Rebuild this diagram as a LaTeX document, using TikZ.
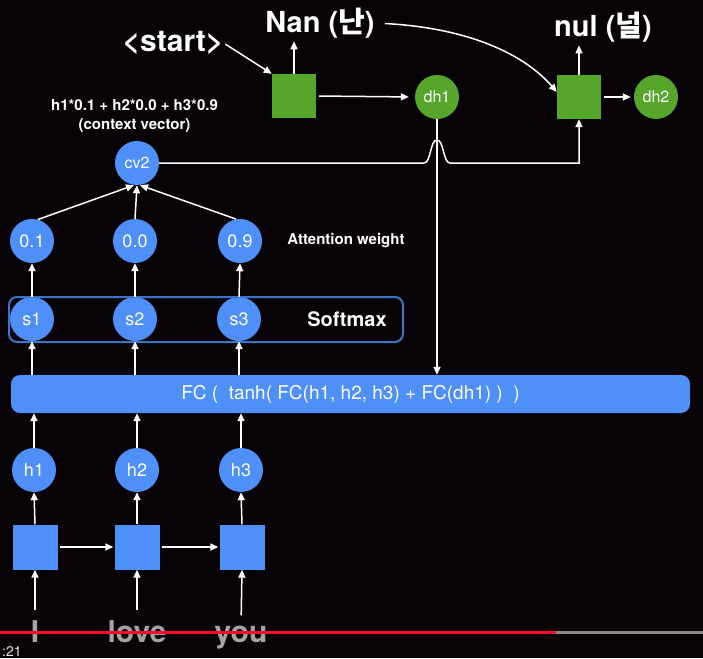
\documentclass[tikz,border=0pt]{standalone}
\usepackage{fontspec}
\setmainfont{TeX Gyre Heros}
\newfontfamily\krfont{Noto Sans CJK KR}
\usetikzlibrary{arrows.meta}

\definecolor{bg}{HTML}{060206}
\definecolor{nodeblue}{HTML}{4F8FF8}
\definecolor{cellgreen}{HTML}{56A62C}
\definecolor{boxline}{HTML}{3E73C8}
\definecolor{wordgray}{HTML}{A4A4A4}
\definecolor{barred}{HTML}{FF0A2A}
\definecolor{bargray}{HTML}{8A8A8A}

\newcommand{\fsz}[1]{\fontsize{#1}{#1}\selectfont}

\begin{document}
\begin{tikzpicture}[x=1pt,y=-1pt,
  bnode/.style={circle, fill=nodeblue, minimum size=44pt, inner sep=0pt, text=white, font=\fsz{18}},
  gnode/.style={circle, fill=cellgreen, minimum size=44pt, inner sep=0pt, text=white, font=\fsz{16}},
  bcell/.style={rectangle, fill=nodeblue, minimum size=45pt, inner sep=0pt},
  gcell/.style={rectangle, fill=cellgreen, minimum size=44pt, inner sep=0pt},
  arr/.style={draw=white, line width=1.5pt, -{Triangle[length=8pt,width=7pt]}},
  link/.style={draw=white, line width=1.5pt},
  lbl/.style={text=white, inner sep=0pt, font=\bfseries\fsz{#1}},
  word/.style={text=wordgray, inner sep=0pt, anchor=base, font=\bfseries\fsz{30}}
]
% canvas
\fill[bg] (0,0) rectangle (703,658);
\useasboundingbox (0,0) rectangle (703,658);

% ---------- encoder ----------
\node[bcell] (x1) at (35,547) {};
\node[bcell] (x2) at (137,547) {};
\node[bcell] (x3) at (242,547) {};

\node[bnode] (h1) at (34,470) {h1};
\node[bnode] (h2) at (137,470) {h2};
\node[bnode] (h3) at (241,470) {h3};

\node[word] (w1) at (35,642) {I};
\node[word] (w2) at (137,642) {love};
\node[word] (w3) at (241,642) {you};

\draw[arr, shorten <=10pt] (w1.north) -- (x1.south);
\draw[arr, shorten <=10pt] (w2.north) -- (x2.south);
\draw[arr, shorten <=10pt] (w3.north) -- (x3.south);

\draw[arr, shorten <=2pt, shorten >=1pt] (x1) -- (x2);
\draw[arr, shorten <=2pt, shorten >=1pt] (x2) -- (x3);

\draw[arr] (x1.north) -- (h1.south);
\draw[arr] (x2.north) -- (h2.south);
\draw[arr] (x3.north) -- (h3.south);

% ---------- attention score ----------
\node[rectangle, rounded corners=9pt, fill=nodeblue, minimum width=679pt, minimum height=38pt,
      inner sep=0pt, text=white, font=\fsz{19}] (fc) at (350.5,394)
      {FC (\ \ tanh( FC(h1, h2, h3) + FC(dh1) )\ \ )};

\draw[arr] (h1.north) -- (h1.north |- fc.south);
\draw[arr] (h2.north) -- (h2.north |- fc.south);
\draw[arr] (h3.north) -- (h3.north |- fc.south);

\node[bnode] (s1) at (32,319) {s1};
\node[bnode] (s2) at (135,319) {s2};
\node[bnode] (s3) at (239,319) {s3};
\node[draw=boxline, line width=2pt, rounded corners=8pt, minimum width=394pt, minimum height=45pt,
      inner sep=0pt] (smbox) at (206,319.5) {};
\node[lbl=20] (smlabel) at (347,319) {Softmax};

\draw[arr] (fc.north -| s1) -- (s1.south);
\draw[arr] (fc.north -| s2) -- (s2.south);
\draw[arr] (fc.north -| s3) -- (s3.south);

\node[bnode] (a1) at (32,241) {0.1};
\node[bnode] (a2) at (135,241) {0.0};
\node[bnode] (a3) at (240,241) {0.9};
\node[lbl=15] (attlabel) at (346,241) {Attention weight};

\draw[arr] (s1.north) -- (a1.south);
\draw[arr] (s2.north) -- (a2.south);
\draw[arr] (s3.north) -- (a3.south);

% ---------- context vector ----------
\node[bnode, font=\fsz{16}] (cv2) at (137,163) {cv2};
\node[lbl=15] (ctx1) at (134.5,105.5) {h1*0.1 + h2*0.0 + h3*0.9};
\node[lbl=15] (ctx2) at (134.5,125.5) {(context vector)};

\draw[arr] (a1.75) -- ([xshift=-3pt]cv2.south);
\draw[arr] (a2.north) -- (cv2.south);
\draw[arr] (a3.100) -- ([xshift=3pt]cv2.south);

% ---------- decoder ----------
\node[gcell] (g1) at (294,96) {};
\node[gcell] (g2) at (579,97) {};
\node[gnode] (dh1) at (437,97) {dh1};
\node[gnode] (dh2) at (656,97) {dh2};

\node[lbl=30] (start) at (173,43) {<start>};
\node[lbl=29] (nan) at (320,23) {Nan ({\krfont\bfseries 난})};
\node[lbl=29] (nul) at (603,27) {nul ({\krfont\bfseries 널})};

\draw[arr, shorten <=2pt] (start.east) -- (g1.north west);
\draw[arr, shorten >=3pt] (g1.north) -- (g1.north |- nan.south);
\draw[arr, shorten >=3pt] (g2.north) -- (g2.north |- nul.south);
\draw[arr, shorten <=3pt, shorten >=6pt] (g1.east) -- (dh1.west);
\draw[arr, shorten <=3pt, shorten >=3pt] (g2.east) -- (dh2.west);

% previous output fed to the next step
\draw[arr, shorten <=10pt] (nan.east) .. controls (470,28) and (525,55) .. ([yshift=5pt]g2.west);

% decoder state into the score
\draw[arr] (dh1.south) -- (dh1.south |- fc.north);

% context vector into the next step, hopping over the dh1 line
\coordinate (hopL) at (424,163);
\coordinate (hopR) at (450,163);
\draw[arr] (cv2.east) -- (hopL)
  .. controls (431,163) and (430,140) .. (437,140)
  .. controls (444,140) and (443,163) .. (hopR)
  -- (hopR -| g2.south) -- (g2.south);

% ---------- player bar ----------
\fill[barred] (0,630.5) rectangle (556,633.5);
\fill[bargray] (556,630.5) rectangle (703,633.5);
\node[text=white!80!gray, inner sep=0pt, anchor=base west, font=\fsz{14}] (clock) at (2,656) {:21};
\end{tikzpicture}
\end{document}
